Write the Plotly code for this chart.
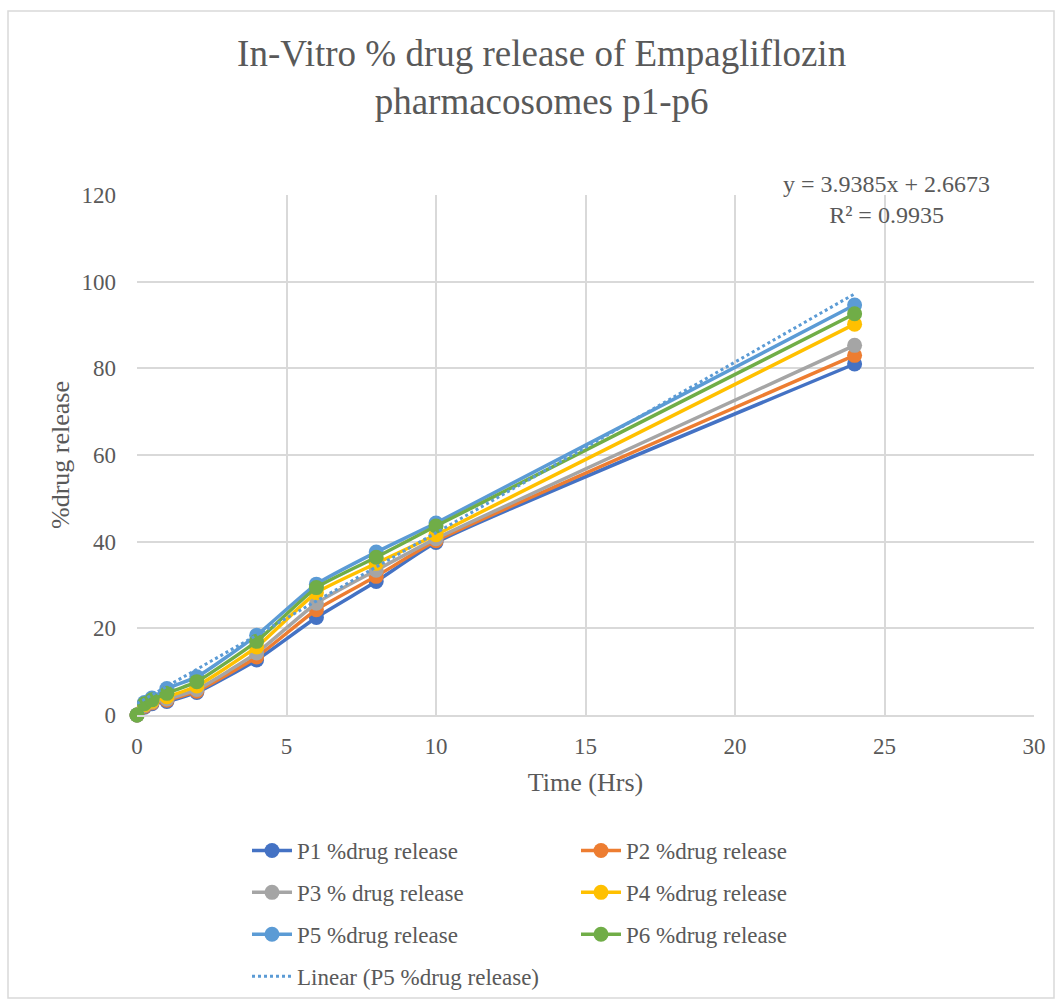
import plotly.graph_objects as go

# ---- data ----
time_hrs = [0, 0.25, 0.5, 1, 2, 4, 6, 8, 10, 24]
p1 = [0, 1.8, 2.6, 3.1, 5.2, 12.7, 22.5, 30.8, 39.8, 81.0]
p2 = [0, 2.0, 2.8, 3.4, 5.5, 13.4, 24.3, 32.0, 40.2, 83.0]
p3 = [0, 2.2, 3.0, 3.7, 5.9, 14.3, 25.8, 33.4, 40.7, 85.3]
p4 = [0, 2.4, 3.2, 4.2, 6.7, 15.7, 28.2, 35.0, 41.6, 90.2]
p5 = [0, 2.9, 3.9, 6.1, 8.8, 18.4, 30.2, 37.6, 44.3, 94.6]
p6 = [0, 2.6, 3.5, 5.0, 7.7, 17.0, 29.4, 36.4, 43.6, 92.6]

series_names = ["P1 %drug release", "P2 %drug release", "P3 % drug release",
                "P4 %drug release", "P5 %drug release", "P6 %drug release"]
series_values = [p1, p2, p3, p4, p5, p6]
series_colors = ["#4472C4", "#ED7D31", "#A5A5A5", "#FFC000", "#5B9BD5", "#70AD47"]
series_legend = ["legend", "legend2", "legend", "legend2", "legend", "legend2"]

trend_slope = 3.9385
trend_intercept = 2.6673
trend_r2 = 0.9935
trend_x = [0, 24]

x_ticks = [0, 5, 10, 15, 20, 25, 30]
y_ticks = [0, 20, 40, 60, 80, 100, 120]

FONT = "Liberation Serif, Times New Roman, serif"
GREY = "#595959"

fig = go.Figure()
for name, vals, col, lg in zip(series_names, series_values, series_colors, series_legend):
    fig.add_trace(go.Scatter(
        x=time_hrs, y=vals, name=name, mode="lines+markers",
        line=dict(color=col, width=3.5, shape="spline", smoothing=0.5),
        marker=dict(color=col, size=15),
        cliponaxis=False, legend=lg, legendgroup=name,
    ))

trend_y = [trend_slope * x + trend_intercept for x in trend_x]
fig.add_trace(go.Scatter(
    x=trend_x, y=trend_y, name="Linear (P5 %drug release)", mode="lines",
    line=dict(color="#5B9BD5", width=3, dash="dot"),
    cliponaxis=False, legend="legend", legendgroup="trend",
))

fig.add_annotation(
    text=f"y = {trend_slope}x + {trend_intercept}<br>R² = {trend_r2}",
    x=(886 - 137) / 897, y=(715 - 200) / 520, xref="paper", yref="paper",
    xanchor="center", yanchor="middle", showarrow=False,
    font=dict(family=FONT, size=24, color=GREY), align="center",
)

# outer chart border
fig.add_shape(type="rect", xref="paper", yref="paper",
              x0=(8 - 137) / 897, x1=(1054 - 137) / 897,
              y0=(715 - 998) / 520, y1=(715 - 11) / 520,
              line=dict(color="#D9D9D9", width=1.5), layer="below")

legend_common = dict(
    orientation="v", yanchor="top", xanchor="left",
    font=dict(family=FONT, size=23, color=GREY),
    tracegroupgap=9, bgcolor="rgba(0,0,0,0)", itemwidth=40,
)

fig.update_layout(
    width=1062, height=1000,
    margin=dict(l=137, r=28, t=195, b=285, autoexpand=False),
    paper_bgcolor="white", plot_bgcolor="white",
    font=dict(family=FONT, color=GREY),
    title=dict(
        text="In-Vitro % drug release of Empagliflozin<br>pharmacosomes p1-p6",
        x=0.51, xanchor="center", y=0.934, yref="container", yanchor="top",
        font=dict(family=FONT, size=37, color=GREY),
    ),
    xaxis=dict(
        range=[0, 30], tickvals=x_ticks, showgrid=True, gridcolor="#D9D9D9", gridwidth=1.5,
        zeroline=False, showline=True, linecolor="#D9D9D9", linewidth=1.5,
        tickfont=dict(family=FONT, size=23, color=GREY), ticklabelstandoff=10,
        title=dict(text="Time (Hrs)", font=dict(family=FONT, size=26, color=GREY), standoff=14),
    ),
    yaxis=dict(
        range=[0, 120], tickvals=y_ticks, showgrid=True, gridcolor="#D9D9D9", gridwidth=1.5,
        zeroline=False, showline=False,
        tickfont=dict(family=FONT, size=23, color=GREY), ticklabelstandoff=20,
        title=dict(text="%drug release", font=dict(family=FONT, size=26, color=GREY), standoff=4),
    ),
    legend=dict(x=(247 - 137) / 897, y=(715 - 829) / 520, **legend_common),
    legend2=dict(x=(576 - 137) / 897, y=(715 - 829) / 520, **legend_common),
)

fig.write_html("out.html")
